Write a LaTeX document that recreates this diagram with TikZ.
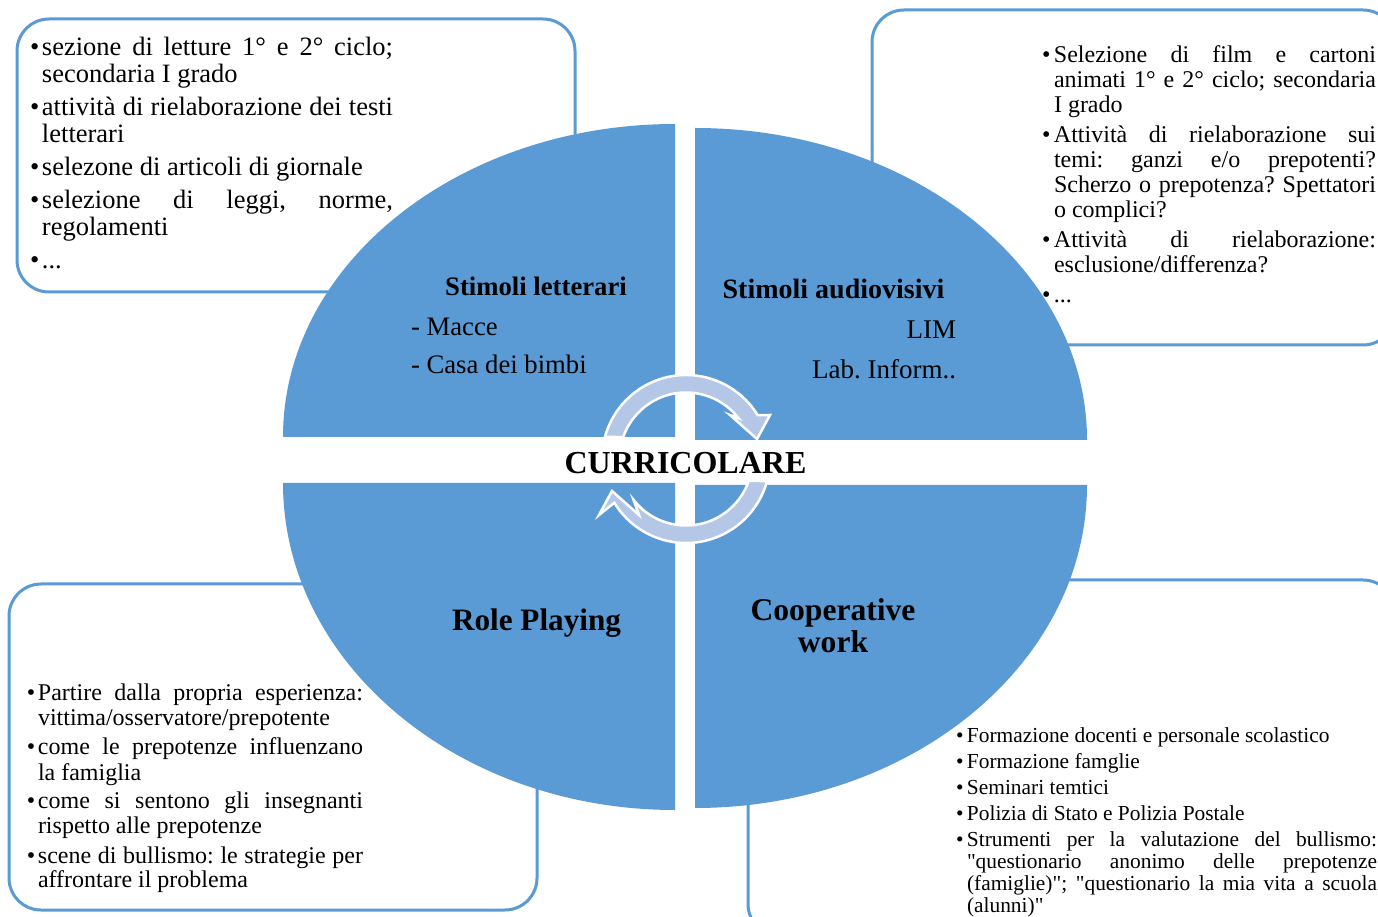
\documentclass[tikz,border=0pt]{standalone}
\usepackage{fontspec}
\setmainfont{Liberation Serif}[Ligatures=TeXOff]
\usetikzlibrary{calc}

\definecolor{quadblue}{HTML}{5B9BD5}
\definecolor{cycleblue}{HTML}{B4C7E7}

% bulleted paragraph with hanging indent
\newlength{\bulind}
\newcommand{\bitem}[1]{\par\noindent\hangindent=\bulind\hangafter=1\makebox[\bulind][l]{•}#1}

\tikzset{
  calloutbox/.style={draw=quadblue, fill=white, line width=3pt, rounded corners=32pt},
  quadrant/.style={fill=quadblue},
  cyclearrow/.style={fill=cycleblue, draw=white, line width=2.5pt, line join=miter},
  listtext/.style={anchor=base west, inner sep=0pt, outer sep=0pt},
  quadlabel/.style={inner sep=0pt, outer sep=0pt, text=black},
}

\frenchspacing
\begin{document}
\begin{tikzpicture}[x=1pt, y=1pt]
\useasboundingbox (0,0) rectangle (1378,916);
\clip (0,0) rectangle (1378,916);
\fill[white] (0,0) rectangle (1378,916);

% callout boxes behind the cycle matrix
\draw[calloutbox] (17,624) rectangle (575,897);
\draw[calloutbox] (872,571) rectangle (1395,906);
\draw[calloutbox] (9,6) rectangle (537,332);
\draw[calloutbox] (748,-20) rectangle (1395,336);

% four quarter-ellipse segments
\fill[quadrant] (675,479) -- (283,479) arc[start angle=180, end angle=90, x radius=392pt, y radius=313pt] -- cycle;
\fill[quadrant] (695,476) -- (695,788) arc[start angle=90, end angle=0, x radius=392pt, y radius=312pt] -- cycle;
\fill[quadrant] (675,433) -- (283,433) arc[start angle=180, end angle=270, x radius=392pt, y radius=327pt] -- cycle;
\fill[quadrant] (695,431) -- (1087,431) arc[start angle=0, end angle=-90, x radius=392pt, y radius=323pt] -- cycle;

% circular arrows in the middle
\coordinate (O) at (686,457);
\path[cyclearrow] ($(O)+(164.8:84pt)$) arc[start angle=164.8, end angle=31.4, radius=84pt]
  -- (770,501) -- (757,477) -- (730,501)
  -- ($(O)+(37.9:66.5pt)$) arc[start angle=37.9, end angle=160.7, radius=66.5pt] -- cycle;
\begin{scope}[rotate around={180:(684.5,451)}]
\path[cyclearrow] ($(O)+(164.8:84pt)$) arc[start angle=164.8, end angle=31.4, radius=84pt]
  -- (770,501) -- (757,477) -- (730,501)
  -- ($(O)+(37.9:66.5pt)$) arc[start angle=37.9, end angle=160.7, radius=66.5pt] -- cycle;
\end{scope}

% centre title
\node[quadlabel, anchor=base] (centre) at (685.5,442) {\fontsize{32}{34}\selectfont\bfseries CURRICOLARE};

% quadrant labels
\node[quadlabel, anchor=base] (lett) at (536,620) {\fontsize{26.7}{28}\selectfont\bfseries Stimoli letterari};
\node[quadlabel, anchor=base west] (macce) at (411,580) {\fontsize{26.7}{28}\selectfont - Macce};
\node[quadlabel, anchor=base west] (casa) at (411,542) {\fontsize{26.7}{28}\selectfont - Casa dei bimbi};

\node[quadlabel, anchor=base] (audio) at (833.5,617) {\fontsize{28}{30}\selectfont\bfseries Stimoli audiovisivi};
\node[quadlabel, anchor=base east] (lim) at (956,577) {\fontsize{27}{29}\selectfont LIM};
\node[quadlabel, anchor=base east] (lab) at (956,537) {\fontsize{27}{29}\selectfont Lab. Inform..};

\node[quadlabel, anchor=base] (role) at (536.5,285) {\fontsize{31.2}{32}\selectfont\bfseries Role Playing};
\node[quadlabel, anchor=base] (coop) at (833,295) {\fontsize{31.6}{32}\selectfont\bfseries
  \begin{tabular}[t]{@{}c@{}}Cooperative\\work\end{tabular}};

% bulleted lists inside the callouts
\node[listtext] (listTL) at (30,860) {\begin{minipage}[t]{363pt}
  \fontsize{26.5}{27}\selectfont\setlength{\parskip}{6pt}\setlength{\bulind}{12pt}\lineskiplimit=-20pt
  \bitem{sezione di letture 1° e 2° ciclo;\linebreak secondaria I grado}
  \bitem{attività di rielaborazione dei testi\linebreak letterari}
  \bitem{selezone di articoli di giornale}
  \bitem{selezione di leggi, norme,\linebreak regolamenti}
  \bitem{...}
\end{minipage}};

\node[listtext] (listTR) at (1042,853) {\begin{minipage}[t]{334pt}
  \fontsize{24}{25}\selectfont\setlength{\parskip}{5pt}\setlength{\bulind}{12pt}\lineskiplimit=-20pt
  \bitem{Selezione di film e cartoni\linebreak animati 1° e 2° ciclo; secondaria\linebreak I grado}
  \bitem{Attività di rielaborazione sui\linebreak temi: ganzi e/o prepotenti?\linebreak Scherzo o prepotenza? Spettatori\linebreak o complici?}
  \bitem{Attività di rielaborazione:\linebreak esclusione/differenza?}
  \bitem{...}
\end{minipage}};

\node[listtext] (listBL) at (27,215) {\begin{minipage}[t]{336pt}
  \fontsize{24}{25}\selectfont\setlength{\parskip}{4pt}\setlength{\bulind}{11pt}\lineskiplimit=-20pt
  \bitem{Partire dalla propria esperienza:\linebreak vittima/osservatore/prepotente}
  \bitem{come le prepotenze influenzano\linebreak la famiglia}
  \bitem{come si sentono gli insegnanti\linebreak rispetto alle prepotenze}
  \bitem{scene di bullismo: le strategie per\linebreak affrontare il problema}
\end{minipage}};

\node[listtext] (listBR) at (956,174) {\begin{minipage}[t]{421pt}
  \fontsize{21.4}{22}\selectfont\setlength{\parskip}{4pt}\setlength{\bulind}{11pt}\lineskiplimit=-20pt
  \bitem{Formazione docenti e personale scolastico}
  \bitem{Formazione famglie}
  \bitem{Seminari temtici}
  \bitem{Polizia di Stato e Polizia Postale}
  \bitem{Strumenti per la valutazione del bullismo:\linebreak "questionario anonimo delle prepotenze\linebreak (famiglie)"; "questionario la mia vita a scuola\linebreak (alunni)"}
\end{minipage}};

\end{tikzpicture}
\end{document}
